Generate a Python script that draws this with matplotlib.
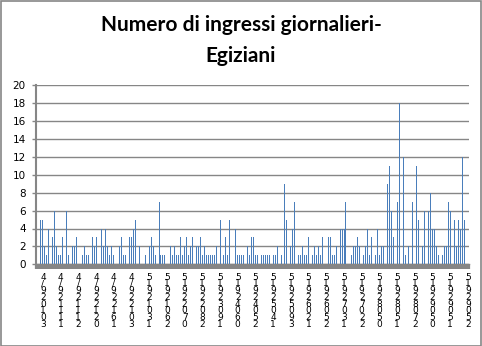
import matplotlib
matplotlib.use("Agg")
import matplotlib.pyplot as plt
from matplotlib.patches import Rectangle
import numpy as np

# daily counts, one per category
values = [0, 0, 5, 5, 2, 1, 4, 0, 3, 6, 2, 1, 1, 3, 0, 6, 1, 0, 2, 2,
          3, 0, 0, 1, 2, 1, 1, 0, 3, 2, 3, 4, 0, 4, 2, 4, 2, 1, 2, 1,
          0, 0, 2, 3, 1, 1, 0, 3, 3, 4, 5, 0, 2, 0, 0, 1, 0, 2, 3, 2,
          1, 0, 7, 1, 1, 1, 0, 0, 2, 1, 2, 1, 1, 3, 1, 2, 3, 1, 2, 3,
          0, 2, 2, 3, 1, 2, 1, 1, 1, 1, 1, 2, 0, 5, 8, 1, 3, 1, 5, 0,
          0, 4, 1, 1, 1, 1, 0, 2, 1, 3, 3, 1, 1, 0, 1, 1, 1, 1, 1, 0,
          1, 1, 2, 0, 1, 2, 9, 5, 0, 2, 4, 7, 0, 1, 1, 2, 1, 1, 3, 0,
          1, 2, 1, 2, 1, 3, 0, 0, 3, 3, 1, 1, 2, 0, 4, 4, 4, 7, 0, 0,
          1, 2, 2, 3, 2, 0, 1, 2, 4, 1, 3, 0, 1, 4, 1, 2, 2, 0, 9, 11,
          6, 3, 0, 7, 18, 0, 12, 1, 4, 2, 0, 7, 0, 11, 5, 0, 2, 6, 0, 6,
          8, 4, 4, 2, 1, 0, 1, 2, 2, 7, 6, 0, 5, 2, 5, 4, 12, 5, 0, 0]

# stacked x labels, shown every 9th category
tick_labels = ["4/920103", "4/921111", "4/921112", "4/922120", "4/922161",
               "4/922103", "51921031", "51921062", "51922070", "51922082",
               "51923091", "51924060", "51924052", "51925041", "51925093",
               "51926021", "51926052", "51927031", "51927022", "51928050",
               "51928051", "51928072", "51929050", "51929051", "51929052"]
label_start = 3
label_step = 9

gray = "#868686"

fig = plt.figure(figsize=(4.82, 3.46), dpi=100)
ax = fig.add_axes([36 / 482, 81.7 / 346, 433 / 482, 179 / 346])

x = np.arange(len(values))
ax.bar(x, values, width=0.5, color="#4a7ebb", zorder=3, antialiased=False)

ax.set_xlim(-0.5, len(values) - 0.5)
ax.set_ylim(0, 20)
ax.set_yticks(range(0, 21, 2))
ax.yaxis.grid(True, color=gray, linewidth=1.0, zorder=0)

pos = [label_start + i * label_step for i in range(len(tick_labels))]
ax.set_xticks(pos)
ax.set_xticklabels(["\n".join(s) for s in tick_labels], fontsize=6.5,
                   linespacing=0.68, va="top", family="DejaVu Sans")
ax.set_xticks(np.arange(-0.5, len(values), 1), minor=True)
ax.tick_params(axis="x", which="major", length=0, pad=6)
ax.tick_params(axis="x", which="minor", length=3.6, width=1.6, color=gray)
ax.tick_params(axis="y", length=2.9, width=1, color=gray, labelsize=7.5, pad=4.5)

for s in ("top", "right"):
    ax.spines[s].set_visible(False)
ax.spines["left"].set_color(gray)
ax.spines["left"].set_linewidth(1.5)
ax.spines["bottom"].set_color(gray)
ax.spines["bottom"].set_linewidth(1.0)

fig.text(0.5, 1 - 31 / 346, "Numero di ingressi giornalieri-", ha="center",
         va="baseline", fontsize=15, fontweight="bold", family="Lato")
fig.text(0.5, 1 - 62 / 346, "Egiziani", ha="center", va="baseline",
         fontsize=15, fontweight="bold", family="Lato")

fig.add_artist(Rectangle((0.5 / 482, 0.5 / 346), 480.5 / 482, 344.5 / 346,
                         transform=fig.transFigure, fill=False,
                         edgecolor=gray, linewidth=1.2))

fig.savefig("out.png", dpi=100)
